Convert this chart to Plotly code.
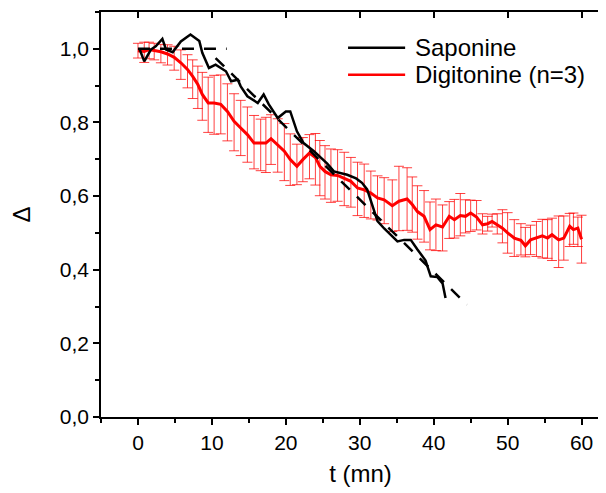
import plotly.graph_objects as go

# ---------------- data ----------------
sap_t = [0.2, 0.85, 1.75, 2.4, 3.3, 3.8, 4.7, 5.8, 7.1, 8.3, 8.7, 9.6, 10.5, 11.9,
         12.6, 13.5, 13.9, 14.8, 16.2, 17.0, 17.7, 18.9, 20.0, 20.6, 21.5, 22.4,
         23.8, 24.7, 25.6, 26.5, 28.3, 29.5, 30.3, 31.0, 31.7, 32.4, 33.3, 34.2,
         35.1, 36.0, 36.9, 37.8, 38.9, 39.6, 40.5, 41.2, 41.6]
sap_y = [1.0, 0.966, 0.998, 1.007, 1.027, 0.998, 0.991, 1.02, 1.039, 1.021, 0.989,
         0.948, 0.957, 0.939, 0.912, 0.916, 0.898, 0.871, 0.853, 0.876, 0.849, 0.812,
         0.830, 0.830, 0.776, 0.744, 0.722, 0.704, 0.688, 0.667, 0.658, 0.648, 0.636,
         0.618, 0.577, 0.532, 0.512, 0.495, 0.477, 0.481, 0.481, 0.455, 0.425, 0.382,
         0.380, 0.363, 0.323]

fit_t = [0, 12, None, 10.5, 44.5]
fit_y = [1.0, 1.0, None, 0.975, 0.305]

dig_t = [0.0, 0.85, 1.5, 2.2, 3.1, 4.0, 4.9, 5.8, 6.7, 7.4, 8.1, 8.7, 9.5, 10.3,
         11.2, 12.1, 13.0, 13.9, 14.8, 15.7, 16.6, 17.3, 18.0, 18.9, 19.8, 20.6,
         21.5, 22.3, 23.2, 24.0, 24.6, 25.3, 26.1, 27.0, 27.9, 28.8, 29.7, 30.6,
         31.5, 32.4, 33.3, 34.4, 35.3, 36.4, 37.1, 37.8, 38.7, 39.5, 40.3, 41.2,
         42.1, 42.8, 43.6, 44.3, 45.0, 45.8, 46.6, 47.3, 47.9, 48.6, 49.3, 50.0,
         50.9, 51.8, 52.4, 53.1, 53.9, 54.7, 55.4, 56.0, 56.9, 57.6, 58.4, 58.9,
         59.5, 60.0]
dig_y = [0.995, 0.993, 0.998, 0.995, 0.992, 0.986, 0.977, 0.962, 0.944, 0.925,
         0.903, 0.876, 0.853, 0.853, 0.849, 0.830, 0.803, 0.785, 0.767, 0.744,
         0.744, 0.744, 0.756, 0.740, 0.722, 0.699, 0.681, 0.699, 0.717, 0.705,
         0.681, 0.667, 0.658, 0.656, 0.649, 0.640, 0.622, 0.617, 0.608, 0.595,
         0.590, 0.574, 0.586, 0.592, 0.577, 0.558, 0.545, 0.509, 0.522, 0.516,
         0.545, 0.536, 0.547, 0.545, 0.554, 0.543, 0.522, 0.525, 0.531, 0.522,
         0.513, 0.500, 0.486, 0.480, 0.465, 0.481, 0.486, 0.492, 0.486, 0.495,
         0.481, 0.486, 0.518, 0.509, 0.513, 0.483]
dig_err_up = [0.02, 0.025, 0.02, 0.02, 0.02, 0.025, 0.03, 0.035, 0.04, 0.045,
              0.05, 0.06, 0.07, 0.075, 0.08, 0.075, 0.075, 0.075, 0.075, 0.075,
              0.065, 0.07, 0.065, 0.07, 0.075, 0.07, 0.06, 0.06, 0.05, 0.065,
              0.07, 0.07, 0.07, 0.07, 0.07, 0.065, 0.07, 0.07, 0.06, 0.06,
              0.06, 0.07, 0.095, 0.085, 0.075, 0.07, 0.07, 0.075, 0.07, 0.06,
              0.04, 0.055, 0.06, 0.045, 0.035, 0.045, 0.03, 0.02, 0.02, 0.03,
              0.05, 0.055, 0.05, 0.045, 0.05, 0.04, 0.045, 0.045, 0.05, 0.045,
              0.065, 0.06, 0.035, 0.045, 0.03, 0.065]
dig_err_down = [0.02, 0.03, 0.025, 0.025, 0.03, 0.03, 0.035, 0.045, 0.05, 0.06,
                0.065, 0.07, 0.08, 0.085, 0.08, 0.08, 0.08, 0.075, 0.075, 0.07,
                0.075, 0.08, 0.07, 0.075, 0.08, 0.07, 0.05, 0.06, 0.07, 0.075,
                0.08, 0.075, 0.075, 0.07, 0.075, 0.07, 0.075, 0.075, 0.07, 0.06,
                0.065, 0.07, 0.08, 0.085, 0.075, 0.075, 0.07, 0.055, 0.07, 0.065,
                0.06, 0.05, 0.055, 0.045, 0.05, 0.035, 0.025, 0.02, 0.015, 0.025,
                0.04, 0.055, 0.05, 0.04, 0.03, 0.04, 0.05, 0.06, 0.055, 0.07,
                0.075, 0.06, 0.055, 0.04, 0.05, 0.065]

x_ticks = [0, 10, 20, 30, 40, 50, 60]
x_range = [-5, 65.2]
y_range = [0, 1.1]
legend_names = ["Saponine", "Digitonine (n=3)"]
legend_colors = ["black", "#ff0000"]

FONT = "Liberation Sans, Arial, sans-serif"

fig = go.Figure()

fig.add_trace(go.Scatter(
    x=dig_t, y=dig_y, mode="lines", name=legend_names[1],
    line=dict(color="#ff0000", width=3),
    error_y=dict(type="data", symmetric=False, array=dig_err_up,
                 arrayminus=dig_err_down, color="rgba(255,0,0,0.75)",
                 thickness=1, width=5),
))
# dashed fits, drawn on the top axis (same range) so that axis is rendered
fig.add_trace(go.Scatter(
    x=fit_t, y=fit_y, mode="lines", showlegend=False, xaxis="x2",
    line=dict(color="black", width=2.5, dash="12px,10px"),
))
fig.add_trace(go.Scatter(
    x=sap_t, y=sap_y, mode="lines", name=legend_names[0],
    line=dict(color="black", width=2.5),
))

# manual legend (line samples + text)
leg_y = [0.912, 0.845]
shapes = []
annotations = []
for name, col, yy in zip(legend_names, legend_colors, leg_y):
    shapes.append(dict(type="line", xref="paper", yref="paper",
                       x0=0.476, x1=0.586, y0=yy, y1=yy,
                       line=dict(color=col, width=2.5)))
    annotations.append(dict(text=name, x=0.601, y=yy, xref="paper", yref="paper",
                            xanchor="left", yanchor="middle", showarrow=False,
                            font=dict(size=24)))

fig.update_layout(
    width=612, height=485,
    margin=dict(l=93, r=0, t=4, b=76),
    paper_bgcolor="white", plot_bgcolor="white",
    separators=",.",
    font=dict(family=FONT, size=21, color="black"),
    showlegend=False,
    xaxis=dict(range=x_range, tickvals=x_ticks, ticks="outside", ticklen=6,
               tickwidth=1.5, tickcolor="black", showline=True, linewidth=1.5,
               linecolor="black", showgrid=False, zeroline=False, mirror=True,
               minor=dict(dtick=5, tick0=0, ticks="outside", ticklen=4,
                          tickwidth=1.5, tickcolor="black", showgrid=False),
               title=dict(text="t (mn)", font=dict(size=24), standoff=12)),
    xaxis2=dict(range=x_range, overlaying="x", side="top", anchor="y",
                tickvals=x_ticks, ticks="inside", ticklen=6, tickwidth=1.5,
                tickcolor="black", showticklabels=False, showline=False,
                showgrid=False, zeroline=False),
    yaxis=dict(range=y_range, dtick=0.2, tick0=0, tickformat=".1f",
               ticks="outside", ticklen=6, tickwidth=1.5, tickcolor="black",
               showline=True, linewidth=1.5, linecolor="black", showgrid=False,
               zeroline=False, anchor="x",
               minor=dict(dtick=0.1, tick0=0, ticks="outside", ticklen=4,
                          tickwidth=1.5, tickcolor="black", showgrid=False),
               title=dict(text="Δ", font=dict(size=24), standoff=26)),
    shapes=shapes,
    annotations=annotations,
)

fig.write_html("out.html", config={"displayModeBar": False})
